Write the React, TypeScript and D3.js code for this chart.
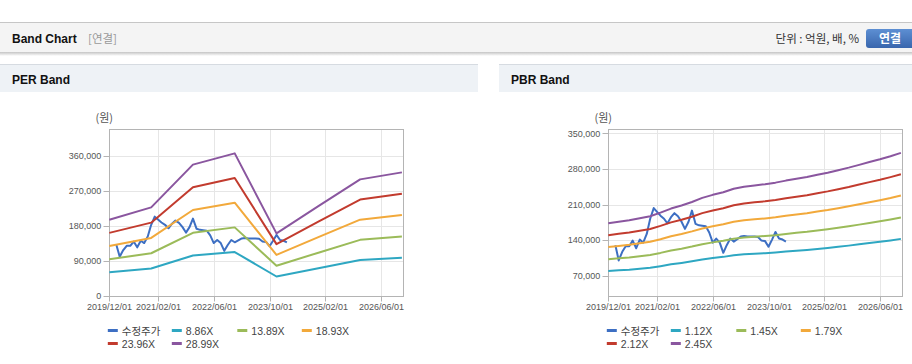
import React from "react";
import * as d3 from "d3";

// x axis tick labels (shared by both charts)
const X_TICKS = ["2019/12/01", "2021/02/01", "2022/06/01", "2023/10/01", "2025/02/01", "2026/06/01"];

// adjusted stock price (monthly)
const PRICE_MONTHS = [
  "2020-02", "2020-03", "2020-04", "2020-05", "2020-06", "2020-07", "2020-08", "2020-09", "2020-10", "2020-11", "2020-12",
  "2021-01", "2021-02", "2021-03", "2021-04", "2021-05", "2021-06", "2021-07", "2021-08", "2021-09", "2021-10", "2021-11", "2021-12",
  "2022-01", "2022-02", "2022-03", "2022-04", "2022-05", "2022-06", "2022-07", "2022-08", "2022-09", "2022-10", "2022-11", "2022-12",
  "2023-01", "2023-02", "2023-03", "2023-04", "2023-05", "2023-06", "2023-07", "2023-08", "2023-09", "2023-10", "2023-11", "2023-12",
  "2024-01", "2024-02", "2024-03",
];
const PRICE = [
  130000, 100000, 117000, 128000, 128000, 139000, 124000, 141000, 135000, 152000, 182000,
  203000, 195000, 188000, 182000, 173000, 185000, 193000, 187000, 176000, 162000, 176000, 198000,
  172000, 169000, 168000, 167000, 155000, 135000, 143000, 135000, 115000, 130000, 143000, 137000,
  142000, 147000, 148000, 147000, 147000, 147000, 146000, 139000, 138000, 127000, 141000, 156000,
  143000, 141000, 137000,
];

// PER band
const PER_DATES = ["2019-12", "2020-12", "2021-12", "2022-12", "2023-12", "2024-12", "2025-12", "2026-12"];
const PER_LABELS = ["수정주가", "8.86X", "13.89X", "18.93X", "23.96X", "28.99X"];
const PER_8_86 = [59600, 69400, 103000, 111900, 48900, 70300, 91400, 96900];
const PER_13_89 = [93400, 108800, 161500, 175400, 76700, 110200, 143300, 151900];
const PER_18_93 = [127300, 148200, 220100, 239000, 104500, 150200, 195200, 207000];
const PER_23_96 = [161200, 187600, 278500, 302500, 132200, 190100, 247100, 262000];
const PER_28_99 = [195000, 227000, 337000, 366000, 160000, 230000, 299000, 317000];
const PER_TICKS = [0, 90000, 180000, 270000, 360000];

// PBR band (quarterly)
const PBR_DATES = [
  "2019-12", "2020-03", "2020-06", "2020-09", "2020-12", "2021-03", "2021-06", "2021-09", "2021-12",
  "2022-03", "2022-06", "2022-09", "2022-12", "2023-03", "2023-06", "2023-09", "2023-12",
  "2024-03", "2024-06", "2024-09", "2024-12", "2025-03", "2025-06", "2025-09", "2025-12",
  "2026-03", "2026-06", "2026-09", "2026-12",
];
const PBR_LABELS = ["수정주가", "1.12X", "1.45X", "1.79X", "2.12X", "2.45X"];
const PBR_1_12 = [
  79100, 80500, 81800, 83700, 85500, 88700, 92300, 95100, 98300, 101900, 104700, 107000, 110200, 112000, 113100,
  114300, 115700, 117500, 119100, 120700, 122700, 124600, 126900, 129100, 131700, 134200, 136700, 139400, 142400,
];
const PBR_1_45 = [
  102400, 104200, 105900, 108300, 110700, 114800, 119600, 123100, 127200, 132000, 135500, 138500, 142600, 145000, 146500,
  148000, 149700, 152100, 154200, 156200, 158900, 161300, 164200, 167200, 170400, 173700, 177000, 180500, 184400,
];
const PBR_1_79 = [
  126400, 128600, 130800, 133700, 136600, 141700, 147600, 152000, 157100, 162900, 167300, 171000, 176100, 179000, 180800,
  182700, 184800, 187800, 190300, 192900, 196200, 199100, 202700, 206400, 210400, 214400, 218500, 222800, 227600,
];
const PBR_2_12 = [
  149700, 152300, 154900, 158400, 161800, 167900, 174800, 180000, 186000, 193000, 198200, 202500, 208500, 212000, 214200,
  216300, 218900, 222400, 225400, 228400, 232300, 235800, 240100, 244400, 249200, 254000, 258700, 263900, 269500,
];
const PBR_2_45 = [
  173000, 176000, 179000, 183000, 187000, 194000, 202000, 208000, 215000, 223000, 229000, 234000, 241000, 245000, 247500,
  250000, 253000, 257000, 260500, 264000, 268500, 272500, 277500, 282500, 288000, 293500, 299000, 305000, 311500,
];
const PBR_TICKS = [70000, 140000, 210000, 280000, 350000];

const COLORS = ["#3d6fc3", "#2ea7c2", "#9bbb59", "#f2a93b", "#c23b2e", "#8a569f"];

const FONT = "'Liberation Sans', Arial, 'Noto Sans CJK KR', sans-serif";
const KFONT = "'Noto Sans CJK KR', 'Liberation Sans', sans-serif";

const PLOT = { left: 109.3, right: 402.7, top: 128.5, bottom: 295.5 };
const LEGEND_X = [-1.5, 62.5, 128, 192.5];

const parseMonth = d3.timeParse("%Y-%m");
const parseTick = d3.timeParse("%Y/%m/%d");

type Pt = { date: Date; value: number };

const toPoints = (dates: string[], values: number[]): Pt[] =>
  values.map((v, i) => ({ date: parseMonth(dates[i]) as Date, value: v }));

const BandChart = ({ dx, title, yDomain, yTicks, bandDates, bands, labels, panelWidth }) => {
  const x = d3
    .scaleTime()
    .domain([new Date(2019, 11, 1), new Date(2026, 11, 8)])
    .range([PLOT.left, PLOT.right]);
  const y = d3.scaleLinear().domain(yDomain).range([PLOT.bottom, PLOT.top]);
  const line = d3
    .line<Pt>()
    .x((d) => x(d.date))
    .y((d) => y(d.value));

  const series = [toPoints(PRICE_MONTHS, PRICE), ...bands.map((b) => toPoints(bandDates, b))];
  const L = Math.round(PLOT.left) + 0.5;
  const R = Math.round(PLOT.right) + 0.5;
  const T = Math.round(PLOT.top) + 0.5;
  const B = Math.round(PLOT.bottom) + 0.5;
  const snap = (v: number) => Math.round(v) + 0.5;

  return (
    <g transform={`translate(${dx},0)`}>
      <rect x={0} y={64} width={panelWidth} height={28} fill="#eef2f6" />
      <line x1={0} x2={panelWidth} y1={64.5} y2={64.5} stroke="#d6dbe1" />
      <text x={12} y={84} fontFamily={FONT} fontSize={12} fontWeight="bold" fill="#111">
        {title}
      </text>

      <text x={PLOT.left - 5} y={122} textAnchor="middle" fontFamily={KFONT} fontSize={11} fill="#555">
        (원)
      </text>

      {yTicks.map((t) => (
        <line key={"gy" + t} x1={L} x2={R} y1={snap(y(t))} y2={snap(y(t))} stroke="#e6e6e6" />
      ))}
      {X_TICKS.map((t) => {
        const px = snap(x(parseTick(t) as Date));
        return <line key={"gx" + t} x1={px} x2={px} y1={T} y2={B} stroke="#e6e6e6" />;
      })}

      <rect x={L} y={T} width={R - L} height={B - T} fill="none" stroke="#b4b4b4" />

      {yTicks.map((t) => (
        <g key={"yt" + t}>
          <line x1={L - 6} x2={L} y1={snap(y(t))} y2={snap(y(t))} stroke="#b4b4b4" />
          <text
            x={PLOT.left - 8}
            y={y(t) + 3.3}
            textAnchor="end"
            fontFamily={FONT}
            fontSize={9}
            fill="#555"
          >
            {d3.format(",")(t)}
          </text>
        </g>
      ))}
      {X_TICKS.map((t) => {
        const px = snap(x(parseTick(t) as Date));
        return (
          <g key={"xt" + t}>
            <line x1={px} x2={px} y1={B} y2={B + 5} stroke="#b4b4b4" />
            <text x={px} y={310} textAnchor="middle" fontFamily={FONT} fontSize={9} fill="#555">
              {t}
            </text>
          </g>
        );
      })}

      {series.map((s, i) => (
        <path key={"s" + i} d={line(s) || ""} fill="none" stroke={COLORS[i]} strokeWidth={2} strokeLinejoin="round" />
      ))}

      {labels.map((lab, i) => {
        const lx = PLOT.left + LEGEND_X[i % 4];
        const ly = i < 4 ? 330.5 : 343.5;
        return (
          <g key={"lg" + lab}>
            <line x1={lx} x2={lx + 10} y1={ly} y2={ly} stroke={COLORS[i]} strokeWidth={3} />
            <text x={lx + 14} y={ly + 4} fontFamily={i === 0 ? KFONT : FONT} fontSize={10.5} fill="#444">
              {lab}
            </text>
          </g>
        );
      })}
    </g>
  );
};

export default function App() {
  return (
    <svg
      width={912}
      height={364}
      style={{ position: "absolute", left: 0, top: 0, display: "block", background: "#fff" }}
    >
      <defs>
        <linearGradient id="btn" x1="0" y1="0" x2="0" y2="1">
          <stop offset="0" stopColor="#5d8fd3" />
          <stop offset="1" stopColor="#3966ad" />
        </linearGradient>
        <linearGradient id="shadow" x1="0" y1="0" x2="0" y2="1">
          <stop offset="0" stopColor="#c4c4c4" />
          <stop offset="1" stopColor="#ffffff" />
        </linearGradient>
      </defs>

      {/* top header */}
      <rect x={0} y={22} width={912} height={31} fill="#f4f4f4" />
      <line x1={0} x2={912} y1={22.5} y2={22.5} stroke="#c6c6c6" />
      <rect x={0} y={52} width={912} height={4} fill="url(#shadow)" />
      <text x={12} y={43} fontFamily={FONT} fontSize={12} fontWeight="bold" fill="#111">
        Band Chart
      </text>
      <text x={88} y={43} fontFamily={KFONT} fontSize={11.5} fill="#999">
        [연결]
      </text>
      <text x={859} y={43} textAnchor="end" fontFamily={KFONT} fontSize={11.5} fill="#333">
        단위 : 억원, 배, %
      </text>
      <rect x={866} y={29} width={52} height={19} rx={3} fill="url(#btn)" />
      <text x={890} y={43} textAnchor="middle" fontFamily={KFONT} fontSize={12} fontWeight="bold" fill="#fff">
        연결
      </text>

      <BandChart
        dx={0}
        panelWidth={478}
        title="PER Band"
        yDomain={[0, 430000]}
        yTicks={PER_TICKS}
        bandDates={PER_DATES}
        bands={[PER_8_86, PER_13_89, PER_18_93, PER_23_96, PER_28_99]}
        labels={PER_LABELS}
      />
      <BandChart
        dx={499}
        panelWidth={413}
        title="PBR Band"
        yDomain={[31000, 359500]}
        yTicks={PBR_TICKS}
        bandDates={PBR_DATES}
        bands={[PBR_1_12, PBR_1_45, PBR_1_79, PBR_2_12, PBR_2_45]}
        labels={PBR_LABELS}
      />
    </svg>
  );
}
